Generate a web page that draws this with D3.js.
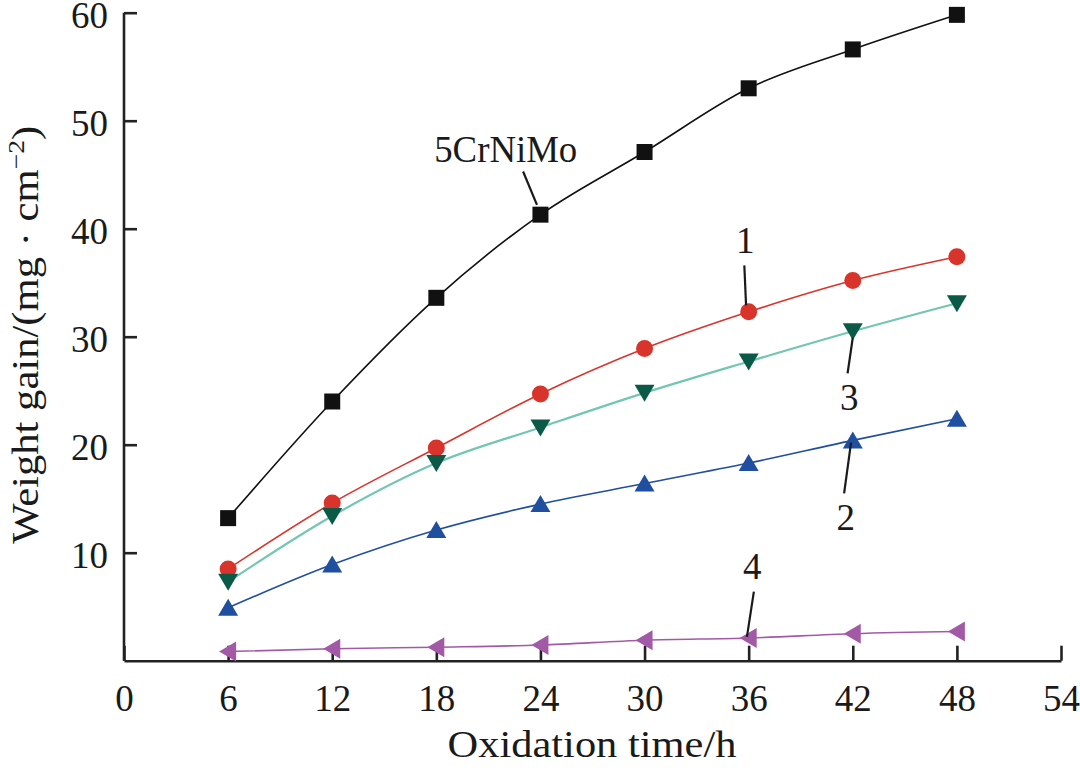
<!DOCTYPE html>
<html>
<head>
<meta charset="utf-8">
<script src="https://cdn.jsdelivr.net/npm/d3@7"></script>
<style>
  html, body { margin: 0; padding: 0; background: #fff; }
  svg text { font-family: "Liberation Serif", "Times New Roman", serif; fill: #1a1a1a; }
</style>
</head>
<body>
<svg id="chart" width="1080" height="773"></svg>
<script>
// --- Data ---
const hours = [6, 12, 18, 24, 30, 36, 42, 48];
const steel5CrNiMo = [13.2, 24.0, 33.6, 41.3, 47.1, 53.0, 56.6, 59.8];
const sample1 = [8.5, 14.6, 19.7, 24.7, 28.9, 32.3, 35.2, 37.4];
const sample2 = [4.9, 8.9, 12.1, 14.5, 16.4, 18.3, 20.4, 22.4];
const sample3 = [7.3, 13.4, 18.3, 21.6, 24.8, 27.7, 30.5, 33.1];
const sample4 = [0.85, 1.1, 1.25, 1.45, 1.9, 2.1, 2.5, 2.7];

const xTicks = [0, 6, 12, 18, 24, 30, 36, 42, 48, 54];
const yTicks = [10, 20, 30, 40, 50, 60];

// label text, text position, leader line start/end (data units)
const labels = [
  { text: "5CrNiMo", tx: 22.0, ty: 46.2, x1: 23.0, y1: 45.3, x2: 23.8, y2: 42.2 },
  { text: "1", tx: 35.8, ty: 37.75, x1: 35.75, y1: 36.6, x2: 35.85, y2: 32.9 },
  { text: "3", tx: 41.8, ty: 23.2, x1: 41.7, y1: 26.6, x2: 42.0, y2: 29.9 },
  { text: "2", tx: 41.6, ty: 12.1, x1: 41.5, y1: 15.5, x2: 41.9, y2: 20.2 },
  { text: "4", tx: 36.2, ty: 7.6, x1: 36.3, y1: 6.4, x2: 35.9, y2: 2.2 }
];

// --- Layout ---
const svg = d3.select("#chart");
const margin = { left: 124, right: 19, top: 12.7, bottom: 112.3 };
const W = 1080, H = 773;

const x = d3.scaleLinear().domain([0, 54]).range([margin.left, W - margin.right]);
const y = d3.scaleLinear().domain([0, 60]).range([H - margin.bottom, margin.top]);

// Axes (ticks point inward)
const xAxis = d3.axisBottom(x).tickValues(xTicks).tickSize(-15).tickPadding(24).tickSizeOuter(0);
const yAxis = d3.axisLeft(y).tickValues(yTicks).tickSize(-13).tickPadding(16).tickSizeOuter(0);

const gx = svg.append("g").attr("transform", `translate(0,${y(0)})`).call(xAxis);
const gy = svg.append("g").attr("transform", `translate(${x(0)},0)`).call(yAxis);

gy.select(".domain").attr("d", `M0,${y(0)}V${y(60)}`);
[gx, gy].forEach(g => {
  g.select(".domain").attr("stroke", "#222").attr("stroke-width", 2.6);
  g.selectAll(".tick line").attr("stroke", "#222").attr("stroke-width", 2.6);
  g.selectAll(".tick text").attr("font-size", 37).attr("fill", "#1a1a1a");
});
gy.selectAll(".tick text").attr("dy", "0.4em");

// Axis titles
svg.append("text")
  .attr("x", 592).attr("y", 757)
  .attr("text-anchor", "middle")
  .attr("font-size", 37)
  .attr("textLength", 289).attr("lengthAdjust", "spacingAndGlyphs")
  .text("Oxidation time/h");

const yt = svg.append("text")
  .attr("transform", `translate(38,${(y(0) + y(60)) / 2 - 2}) rotate(-90)`)
  .attr("text-anchor", "middle")
  .attr("font-size", 37)
  .attr("textLength", 418).attr("lengthAdjust", "spacingAndGlyphs");
yt.append("tspan").text("Weight gain/(mg · cm");
yt.append("tspan").attr("font-size", 24).attr("dy", -14).text("−2");
yt.append("tspan").attr("dy", 14).text(")");

// --- Series ---
const series = [
  { values: steel5CrNiMo, line: "#111111", fill: "#111111", shape: "square" },
  { values: sample1, line: "#d9342b", fill: "#d9342b", shape: "circle" },
  { values: sample3, line: "#72c6b2", fill: "#0b5a48", shape: "down" },
  { values: sample2, line: "#1f4f9e", fill: "#1f4f9e", shape: "up" },
  { values: sample4, line: "#a35aa6", fill: "#a35aa6", shape: "left" }
];

const line = d3.line()
  .x((d, i) => x(hours[i]))
  .y(d => y(d))
  .curve(d3.curveMonotoneX);

function markerPath(shape) {
  if (shape === "square") return "M-8,-8H8V8H-8Z";
  if (shape === "up") return "M0,-9L10,8H-10Z";
  if (shape === "down") return "M0,9L10,-8H-10Z";
  if (shape === "left") return "M-9,0L8,-10V10Z";
  return null;
}

series.forEach(s => {
  svg.append("path")
    .datum(s.values)
    .attr("fill", "none")
    .attr("stroke", s.line)
    .attr("stroke-width", s.shape === "down" ? 2.2 : 1.6)
    .attr("d", line);

  const pts = svg.append("g").selectAll("g")
    .data(s.values)
    .join("g")
    .attr("transform", (d, i) => `translate(${x(hours[i])},${y(d)})`);

  if (s.shape === "circle") {
    pts.append("circle").attr("r", 8.5).attr("fill", s.fill);
  } else {
    pts.append("path").attr("d", markerPath(s.shape)).attr("fill", s.fill);
  }
});

// --- Curve labels with leader lines ---
labels.forEach(l => {
  svg.append("line")
    .attr("x1", x(l.x1)).attr("y1", y(l.y1))
    .attr("x2", x(l.x2)).attr("y2", y(l.y2))
    .attr("stroke", "#1a1a1a").attr("stroke-width", 2.2);
  const t = svg.append("text")
    .attr("x", x(l.tx)).attr("y", y(l.ty))
    .attr("text-anchor", "middle")
    .attr("font-size", 37)
    .text(l.text);
  if (l.text.length > 1) t.attr("textLength", 143).attr("lengthAdjust", "spacingAndGlyphs");
});
</script>
</body>
</html>
